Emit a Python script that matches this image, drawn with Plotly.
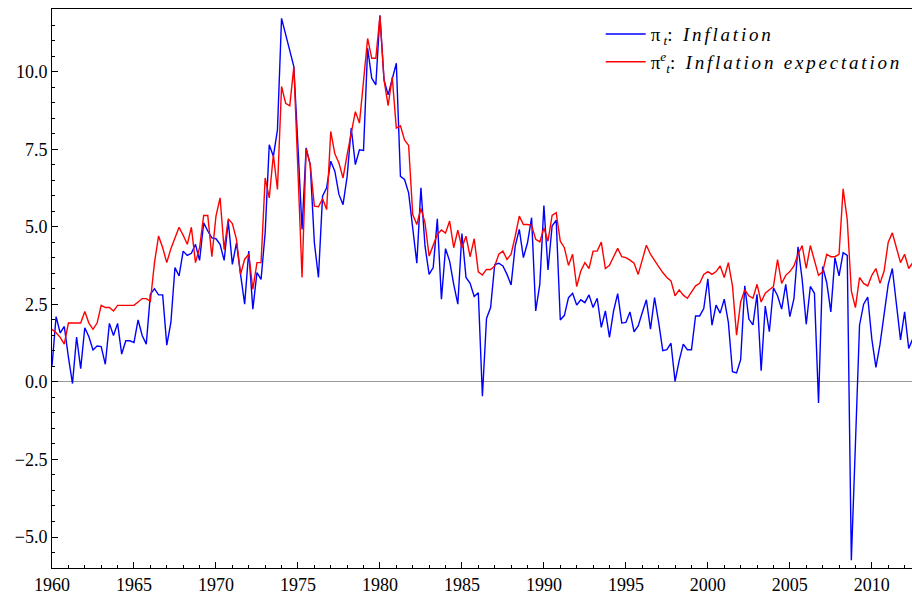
import plotly.graph_objects as go

start_year = 1960
tick_years = [1960, 1965, 1970, 1975, 1980, 1985, 1990, 1995, 2000, 2005, 2010]
y_ticks = [-5.0, -2.5, 0.0, 2.5, 5.0, 7.5, 10.0]

inflation = [
    0.52, 2.11, 1.58, 1.79, 0.8, -0.05, 1.45, 0.43, 1.75, 1.46,
    1.03, 1.16, 1.14, 0.57, 1.89, 1.5, 1.89, 0.9, 1.33, 1.33,
    1.27, 2.0, 1.5, 1.22, 2.83, 3.01, 2.81, 2.81, 1.19, 1.92,
    3.69, 3.42, 4.22, 4.08, 4.15, 4.44, 3.92, 5.13, 4.87, 4.65,
    4.62, 4.44, 3.92, 5.19, 3.79, 4.49, 3.47, 2.51, 4.22, 2.35,
    3.53, 3.31, 4.81, 7.65, 7.28, 8.13, 11.73, 11.24, 10.71, 10.17,
    7.6, 4.92, 7.55, 7.0, 4.5, 3.37, 5.99, 6.26, 7.12, 6.8,
    6.05, 5.72, 6.63, 8.19, 7.01, 7.49, 7.47, 10.76, 9.8, 9.58,
    11.83, 9.74, 9.26, 9.8, 10.28, 6.63, 6.53, 6.1, 5.0, 3.83,
    6.26, 4.38, 3.47, 3.69, 5.26, 2.67, 4.3, 3.9, 3.15, 2.51,
    4.79, 3.37, 3.18, 2.76, 2.88, -0.46, 2.05, 2.4, 3.79, 3.83,
    3.74, 3.47, 3.13, 4.38, 4.92, 4.01, 4.49, 5.3, 2.29, 3.15,
    5.69, 3.61, 5.03, 5.22, 2.0, 2.15, 2.72, 2.86, 2.48, 2.65,
    2.56, 2.81, 2.4, 2.7, 1.76, 2.29, 1.44, 2.29, 2.85, 1.9,
    1.92, 2.26, 1.62, 1.81, 2.24, 2.65, 1.7, 2.72, 1.92, 1.01,
    1.04, 1.25, 0.02, 0.69, 1.22, 1.04, 1.04, 2.13, 2.13, 2.37,
    3.33, 1.83, 2.48, 2.22, 2.67, 1.92, 0.33, 0.29, 0.72, 3.1,
    2.03, 1.84, 2.83, 0.36, 2.45, 1.62, 3.04, 2.78, 2.35, 3.15,
    2.11, 2.69, 4.36, 3.31, 1.86, 3.08, 2.86, -0.68, 3.72, 3.2,
    2.26, 4.01, 3.42, 4.17, 4.08, -5.75, -2.0, 1.83, 2.51, 2.74,
    1.38, 0.47, 1.22, 2.24, 3.15, 3.66, 2.56, 1.36, 2.26, 1.08,
    1.4,
]

expectation = [
    1.70, 1.59, 1.44, 1.22, 1.9, 1.9, 1.9, 1.9, 2.27, 1.9,
    1.7, 1.9, 2.47, 2.4, 2.4, 2.29, 2.47, 2.47, 2.47, 2.47,
    2.47, 2.58, 2.69, 2.69, 2.6, 3.85, 4.71, 4.33, 3.85, 4.3,
    4.65, 4.99, 4.73, 4.44, 4.99, 3.85, 4.33, 5.37, 5.37, 4.04,
    5.35, 5.94, 4.27, 5.26, 5.11, 4.6, 3.47, 3.96, 4.12, 2.99,
    3.85, 3.85, 6.58, 5.94, 7.33, 6.21, 9.53, 8.99, 8.91, 10.17,
    6.8, 3.37, 7.52, 7.01, 5.67, 5.65, 5.91, 5.56, 8.08, 7.36,
    7.06, 6.58, 7.33, 8.08, 8.72, 8.35, 9.8, 11.08, 10.44, 10.44,
    11.8, 9.74, 8.91, 9.83, 8.19, 8.26, 7.81, 7.63, 5.4, 5.08,
    5.6, 5.13, 4.06, 4.44, 4.76, 4.9, 4.8, 5.19, 4.33, 4.9,
    4.33, 4.7, 4.04, 4.62, 3.55, 3.45, 3.63, 3.63, 3.74, 4.12,
    4.22, 3.95, 4.12, 4.7, 5.35, 5.08, 5.08, 5.05, 4.6, 4.52,
    4.97, 4.54, 5.37, 5.46, 4.54, 4.33, 3.76, 4.12, 3.08, 3.58,
    3.85, 3.66, 4.22, 4.22, 4.51, 3.66, 3.76, 4.04, 4.31, 4.04,
    4.01, 3.93, 3.83, 3.47, 3.93, 4.41, 4.12, 3.9, 3.72, 3.53,
    3.37, 3.26, 2.78, 2.97, 2.8, 2.7, 2.88, 3.1, 3.18, 3.47,
    3.56, 3.47, 3.56, 3.74, 3.37, 3.85, 3.1, 1.51, 2.58, 2.97,
    2.78, 2.7, 3.15, 2.58, 2.86, 2.97, 3.08, 3.95, 3.18, 3.44,
    3.56, 3.74, 4.12, 4.4, 3.66, 4.4, 3.95, 3.44, 3.55, 4.12,
    4.04, 4.04, 4.12, 6.23, 5.24, 2.94, 2.4, 3.37, 3.18, 3.1,
    3.44, 3.66, 3.18, 3.58, 4.51, 4.81, 4.33, 3.85, 4.12, 3.66,
    3.85,
]

dates = [start_year + i / 4 for i in range(len(inflation))]

font_family = "Liberation Serif, Times New Roman, serif"
spaced = '<span style="letter-spacing:2.8px">'

fig = go.Figure()
fig.add_trace(go.Scatter(
    x=dates, y=inflation, mode="lines",
    line=dict(color="#0000ff", width=1.4),
    name="π<sub><i> t</i></sub>" + spaced + ": <i>Inflation</i></span>",
))
fig.add_trace(go.Scatter(
    x=dates, y=expectation, mode="lines",
    line=dict(color="#ff0000", width=1.4),
    name="π<sup><i>e</i></sup><sub><i>t</i></sub>" + spaced + ": <i>Inflation expectation</i></span>",
))

fig.update_layout(
    width=912, height=599,
    margin=dict(l=52, r=0, t=9, b=31),
    paper_bgcolor="white", plot_bgcolor="white",
    font=dict(family=font_family, size=18, color="black"),
    showlegend=True,
    legend=dict(
        x=0.995, y=0.989, xanchor="right", yanchor="top",
        bgcolor="rgba(255,255,255,0)", borderwidth=0,
        font=dict(family=font_family, size=19, color="black"),
        tracegroupgap=0, itemwidth=40,
    ),
    xaxis=dict(
        range=[1960, 2012.45],
        tickvals=tick_years, ticktext=[str(t) for t in tick_years],
        ticks="inside", ticklen=6, tickwidth=1, tickcolor="black",
        minor=dict(dtick=1, tick0=1960, ticks="inside", ticklen=3, tickcolor="black"),
        showline=True, linecolor="black", linewidth=1, mirror=True,
        showgrid=False, zeroline=False,
        tickfont=dict(family=font_family, size=18),
    ),
    yaxis=dict(
        range=[-6, 12.03],
        tickvals=y_ticks, ticktext=[f"{v:.1f}".replace("-", "\u2212") for v in y_ticks],
        ticks="inside", ticklen=6, tickwidth=1, tickcolor="black",
        minor=dict(dtick=0.5, tick0=0, ticks="inside", ticklen=3, tickcolor="black"),
        showline=True, linecolor="black", linewidth=1, mirror=True,
        showgrid=False,
        zeroline=True, zerolinecolor="#999999", zerolinewidth=1,
        tickfont=dict(family=font_family, size=18),
    ),
)

fig.write_html(
    "out.html",
    config={"displayModeBar": False},
    post_script="document.body.style.margin='0';document.body.style.overflow='hidden';",
)
